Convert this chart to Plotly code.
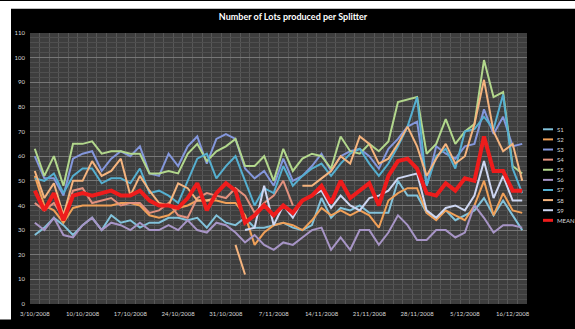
import plotly.graph_objects as go

# Working-day index of each sample (52 days) and the weekly axis labels
day_index = list(range(52))
tick_labels = ["3/10/2008", "10/10/2008", "17/10/2008", "24/10/2008", "31/10/2008",
               "7/11/2008", "14/11/2008", "21/11/2008", "28/11/2008", "5/12/2008",
               "16/12/2008"]
tick_every = 5

# Lots produced per day by each splitter (None = no production recorded)
S1 = [28, 31, 35, 32, 28, 32, 35, 30, 36, 33, 34, 31, 33,
      33, 35, 35, 34, 35, 31, 36, 33, 32, 35, 31, 31, 32,
      33, 31, 30, 32, 43, 35, 39, 38, 40, 37, 37, 37, 50,
      44, 44, 37, 35, 38, 34, 36, 38, 43, 36, 42, 36, 30]
S2 = [52, 40, 38, 33, 39, 40, 40, 40, 40, 41, 41, 40, 36,
      35, 36, 39, 40, 42, 42, 42, 41, 41, 36, 24, 29, 32,
      33, 32, 30, 34, 39, 36, 38, 36, 38, 36, 31, 42, 45,
      47, 47, 37, 34, 38, 36, 34, 40, 50, 36, 45, 38, 37]
S3 = [60, 51, 51, 44, 59, 61, 62, 54, 59, 62, 60, 64, 53,
      52, 61, 56, 64, 68, 57, 67, 69, 67, 55, 51, 54, 48,
      59, 50, 52, 56, 61, 54, 60, 62, 63, 60, 55, 63, 67,
      72, 74, 48, 64, 61, 59, 64, 65, 79, 69, 76, 64, 65]
S4 = [41, 38, 41, 35, 46, 47, 41, 42, 43, 40, 41, 41, 37,
      38, 41, 36, 35, 43, 45, 44, 43, 47, 44, 37, 41, 44,
      50, 40, None, None, None, None, None, None, None, None, None, None, None,
      None, None, None, None, None, None, None, None, None, None, None, None, None]
S5 = [63, 52, 60, 48, 65, 65, 66, 61, 62, 62, 61, 61, 53,
      53, 54, 53, 61, 65, 58, 62, 64, 67, 56, 56, 60, 50,
      63, 54, 59, 61, 60, 55, 68, 62, 61, 65, 62, 66, 82,
      83, 84, 61, 65, 75, 65, 70, 73, 99, 84, 86, 56, 53]
S6 = [33, 30, 35, 28, 27, 32, 35, 30, 33, 32, 30, 33, 30,
      30, 32, 30, 34, 30, 29, 33, 32, 29, 25, 28, 24, 22,
      25, 24, 27, 30, 31, 22, 27, 22, 30, 30, 24, 29, 36,
      32, 26, 26, 30, 30, 27, 29, 40, 35, 29, 32, 32, 31]
S7 = [51, 50, 53, 45, 52, 55, 55, 49, 51, 51, 49, 55, 45,
      46, 44, 41, 50, 59, 61, 51, 56, 60, 50, 40, 47, 45,
      56, 48, 52, 55, 57, 52, 57, 61, 63, 57, 52, 57, 64,
      72, 84, 48, 60, 63, 55, 70, 71, 76, 71, 85, 55, 45]
S8 = [54, 43, 49, 36, 50, 50, 58, 52, 54, 59, 44, 52, 46,
      41, 40, 49, 47, 42, 42, 43, None, 24, 12, None, None, None,
      None, None, 48, 48, 51, 54, 60, 57, 68, 65, 57, 59, 65,
      72, 64, 52, 59, 65, 57, 60, 73, 91, 70, 62, 65, 50]
S9 = [None, None, None, None, None, None, None, None, None, None, None, None, None,
      None, None, None, None, None, None, None, None, None, 30, 31, 48, 32,
      40, 35, 42, 44, 46, 39, 44, 40, 38, 43, 44, 46, 51,
      52, 53, 38, 35, 39, 40, 38, 44, 58, 43, 52, 42, 42]
MEAN = [46, 38, 45, 34, 44, 45, 44, 45, 46, 44, 44, 46, 42,
        40, 40, 39, 43, 49, 38, 45, 49, 46, 33, 36, 40, 36,
        40, 37, 42, 44, 48, 41, 50, 43, 46, 49, 40, 52, 58,
        59, 55, 45, 44, 49, 46, 51, 50, 68, 54, 54, 46, 46]

series_names = ["S1", "S2", "S3", "S4", "S5", "S6", "S7", "S8", "S9", "MEAN"]
series_values = [S1, S2, S3, S4, S5, S6, S7, S8, S9, MEAN]
series_colors = ["#82c2da", "#f0a058", "#8497dc", "#e2917e", "#b2d78c",
                 "#a795c6", "#55afd0", "#f5b47e", "#cdd6f2", "#ee1c1c"]
series_widths = [2, 2, 2, 2, 2, 2, 2, 2, 2, 4]

W, H = 575, 329
L, R, T, B = 30, 48, 33, 16
PW, PH = W - L - R, H - T - B


def px_x(px):
    return (px - L) / PW


def px_y(py):
    return (H - B - py) / PH


fig = go.Figure()
for name, vals, color, width in zip(series_names, series_values, series_colors, series_widths):
    fig.add_trace(go.Scatter(
        x=day_index, y=vals, mode="lines", name=name,
        line=dict(color=color, width=width), connectgaps=False,
        showlegend=False,
    ))

tick_font = dict(family="Lato, Open Sans, sans-serif", size=6, color="#d8d8d8")

fig.update_layout(
    width=W, height=H, autosize=False,
    margin=dict(l=L, r=R, t=T, b=B, pad=0),
    paper_bgcolor="#000000",
    plot_bgcolor="#3e3e3e",
    title=dict(text="<b>Number of Lots produced per Splitter</b>",
               x=293 / W, xanchor="center", y=1 - 17 / H, yanchor="middle",
               font=dict(family="Lato, Open Sans, sans-serif", size=9, color="#ffffff")),
    xaxis=dict(
        range=[-0.5, len(day_index) - 0.5],
        tickmode="array",
        tickvals=day_index[::tick_every],
        ticktext=tick_labels,
        showgrid=False, zeroline=False, showline=False, ticks="",
        tickfont=tick_font, tickangle=0, ticklabelstandoff=5,
        minor=dict(tickmode="linear", tick0=-0.5, dtick=1, showgrid=True,
                   gridcolor="#585858", gridwidth=1, ticks=""),
    ),
    yaxis=dict(
        range=[0, 110], tickmode="linear", tick0=0, dtick=10,
        showgrid=True, gridcolor="#767676", gridwidth=1,
        zeroline=False, showline=False, ticks="",
        tickfont=tick_font, ticklabelstandoff=4,
        minor=dict(tickmode="linear", dtick=2, showgrid=True,
                   gridcolor="#4f4f4f", gridwidth=1, ticks=""),
    ),
)

# White border strips along the left and top edges
shapes = [
    dict(type="rect", xref="paper", yref="paper", layer="above",
         x0=px_x(0), x1=px_x(11), y0=px_y(H), y1=px_y(0),
         fillcolor="#ffffff", line=dict(width=0)),
    dict(type="rect", xref="paper", yref="paper", layer="above",
         x0=px_x(0), x1=px_x(W), y0=px_y(8), y1=px_y(0),
         fillcolor="#ffffff", line=dict(width=0)),
]

# Legend entries: short line sample plus label
annotations = []
for k, (name, color, width) in enumerate(zip(series_names, series_colors, series_widths)):
    py = 132.5 + 10.45 * k
    shapes.append(dict(type="line", xref="paper", yref="paper",
                       x0=px_x(543), x1=px_x(553), y0=px_y(py), y1=px_y(py),
                       line=dict(color=color, width=2 if width < 3 else 3)))
    annotations.append(dict(xref="paper", yref="paper", x=px_x(555), y=px_y(py),
                            xanchor="left", yanchor="middle", showarrow=False,
                            text=name, font=dict(family="Lato, Open Sans, sans-serif",
                                                 size=6, color="#d8d8d8")))

fig.update_layout(shapes=shapes, annotations=annotations)

fig.write_html("out.html")
